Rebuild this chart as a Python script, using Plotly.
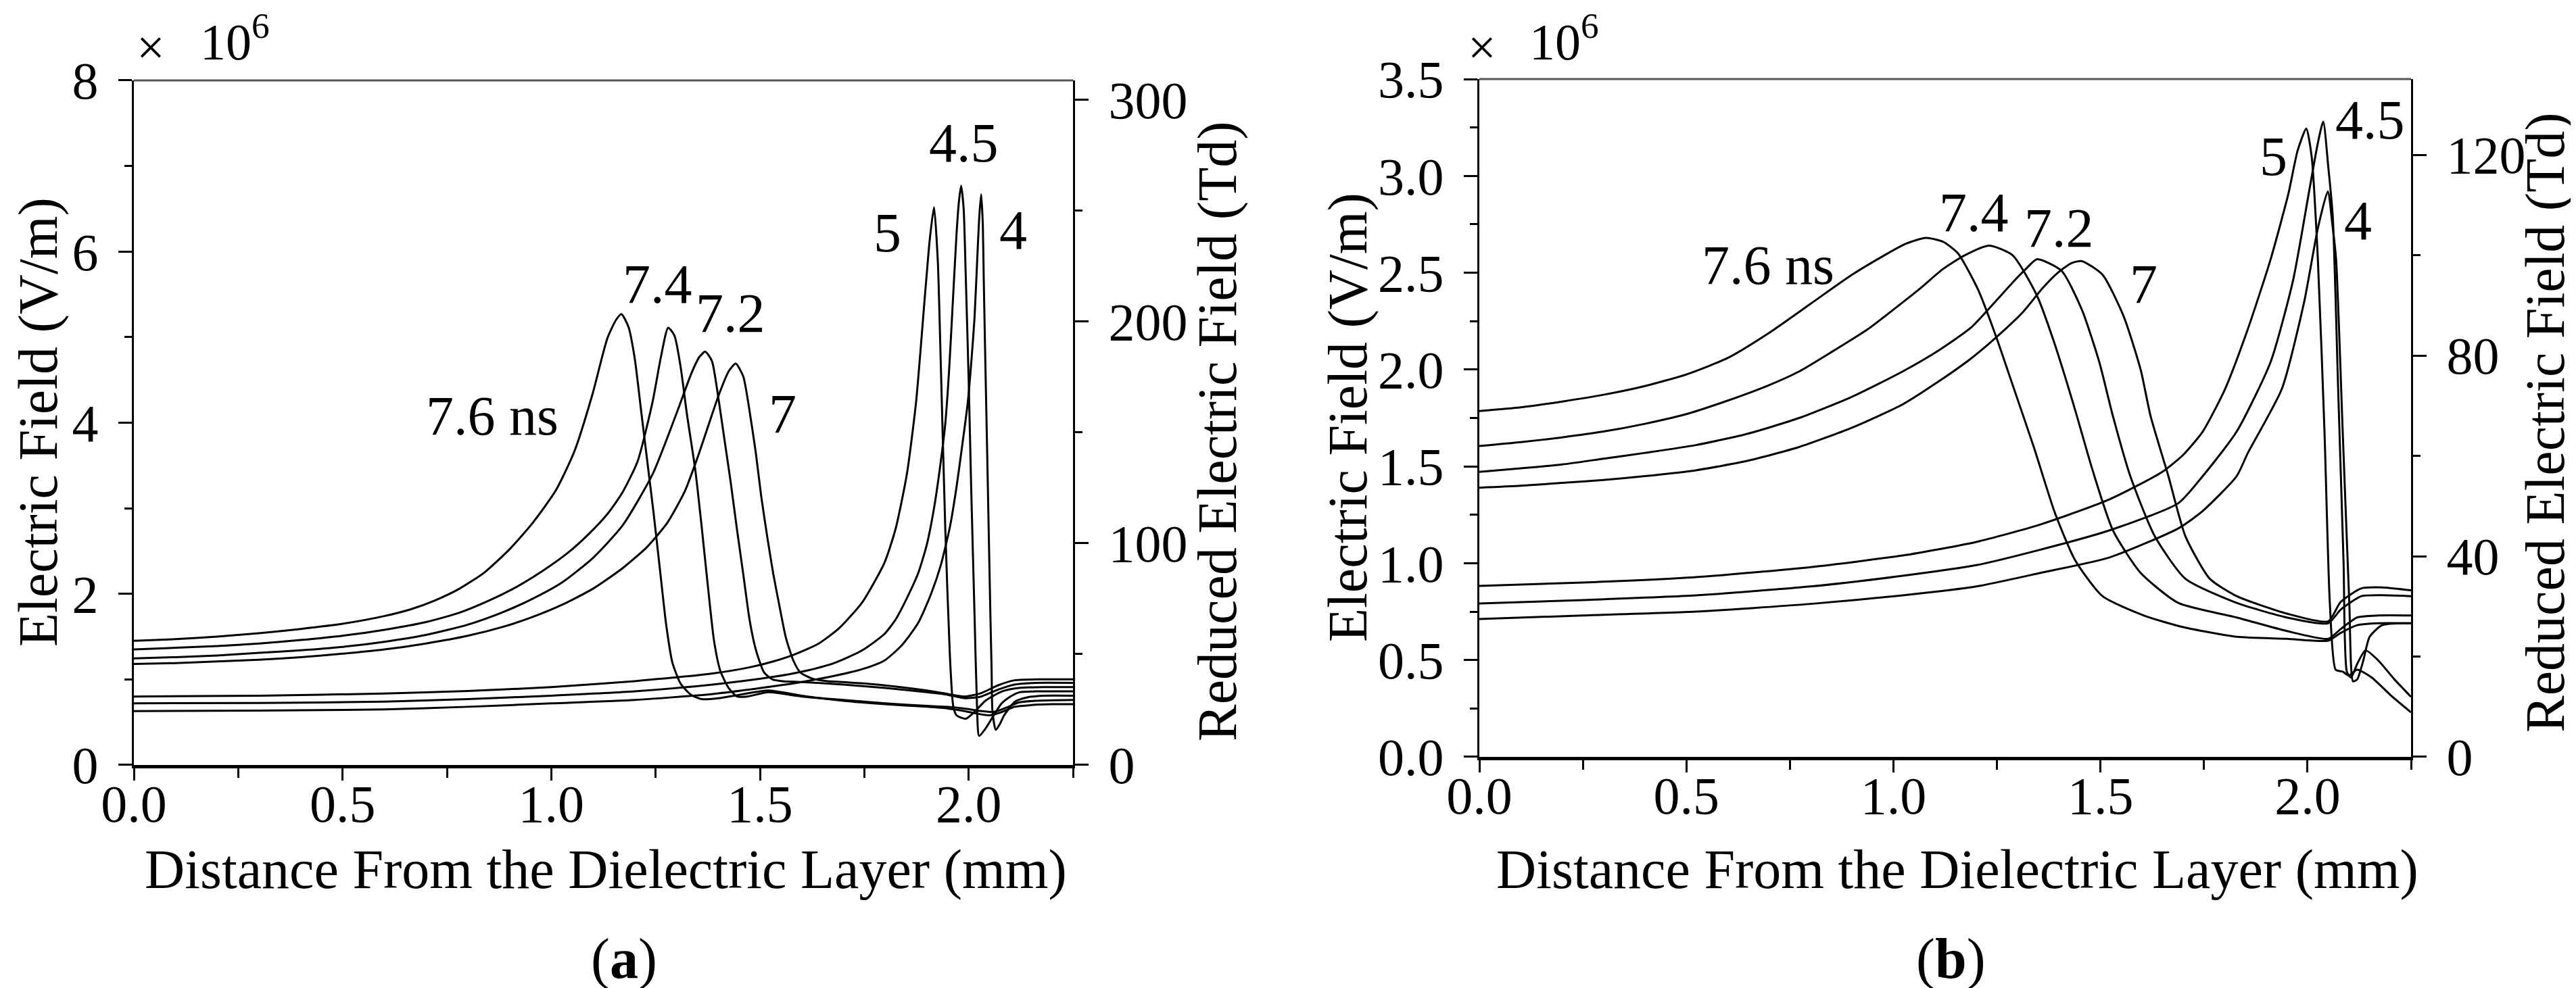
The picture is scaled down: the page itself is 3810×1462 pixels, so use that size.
import plotly.graph_objects as go

# ---- panel (a): electric field (x 10^6 V/m) vs distance (mm) ----
A76_X = [0, 0.1, 0.2, 0.3, 0.4, 0.5, 0.6, 0.664, 0.72, 0.78, 0.84, 0.9, 0.954, 1.011, 1.055, 1.098, 1.134, 1.155,
         1.168, 1.185, 1.2, 1.215, 1.23, 1.245, 1.26, 1.275, 1.29, 1.31, 1.335, 1.36, 1.4, 1.45, 1.52, 1.6, 1.7,
         1.8, 1.9, 1.95, 1.99, 2.02, 2.05, 2.08, 2.11, 2.15, 2.2, 2.25]
A76_E = [1.45, 1.47, 1.5, 1.54, 1.59, 1.65, 1.74, 1.82, 1.92, 2.06, 2.25, 2.52, 2.82, 3.21, 3.66, 4.32, 4.98, 5.2,
         5.27, 5.12, 4.75, 4.15, 3.55, 2.95, 2.3, 1.65, 1.2, 0.95, 0.82, 0.77, 0.78, 0.82, 0.87, 0.81, 0.75,
         0.71, 0.68, 0.66, 0.63, 0.6, 0.58, 0.62, 0.68, 0.7, 0.71, 0.71]

A74_X = [0, 0.1, 0.2, 0.3, 0.4, 0.5, 0.6, 0.7, 0.78, 0.85, 0.92, 0.98, 1.04, 1.09, 1.134, 1.17, 1.207, 1.243,
         1.262, 1.28, 1.295, 1.31, 1.325, 1.345, 1.36, 1.375, 1.39, 1.405, 1.425, 1.445, 1.47, 1.52, 1.6, 1.7,
         1.8, 1.9, 1.95, 1.99, 2.03, 2.06, 2.09, 2.12, 2.16, 2.25]
A74_E = [1.35, 1.37, 1.39, 1.42, 1.46, 1.51, 1.58, 1.67, 1.78, 1.92, 2.09, 2.27, 2.48, 2.7, 2.93, 3.18, 3.55, 4.25,
         4.75, 5.11, 5.02, 4.65, 4.1, 3.45, 2.8, 2.1, 1.45, 1.1, 0.9, 0.8, 0.8, 0.85, 0.8, 0.76,
         0.72, 0.69, 0.68, 0.66, 0.63, 0.62, 0.67, 0.73, 0.75, 0.76]

A72_X = [0, 0.1, 0.2, 0.3, 0.4, 0.5, 0.6, 0.7, 0.8, 0.881, 0.95, 1.025, 1.1, 1.171, 1.243, 1.301, 1.336, 1.355,
         1.369, 1.385, 1.4, 1.415, 1.43, 1.445, 1.46, 1.475, 1.49, 1.51, 1.53, 1.553, 1.6, 1.7, 1.8, 1.9, 1.95,
         1.99, 2.03, 2.07, 2.11, 2.16, 2.25]
A72_E = [1.245, 1.26, 1.28, 1.31, 1.34, 1.38, 1.44, 1.52, 1.64, 1.78, 1.93, 2.13, 2.42, 2.8, 3.4, 4.12, 4.58, 4.77,
         4.83, 4.72, 4.3, 3.8, 3.3, 2.75, 2.23, 1.7, 1.35, 1.08, 1.0, 0.98, 0.97, 0.94, 0.9, 0.85, 0.82,
         0.78, 0.8, 0.88, 0.94, 0.96, 0.96]

A70_X = [0, 0.1, 0.2, 0.3, 0.4, 0.5, 0.6, 0.7, 0.8, 0.881, 0.95, 1.025, 1.1, 1.171, 1.23, 1.278, 1.32, 1.351, 1.38,
         1.401, 1.425, 1.442, 1.46, 1.474, 1.49, 1.503, 1.518, 1.532, 1.547, 1.562, 1.58, 1.597, 1.625, 1.662, 1.7,
         1.8, 1.9, 1.95, 1.99, 2.03, 2.07, 2.11, 2.16, 2.25]
A70_E = [1.18, 1.19, 1.21, 1.23, 1.26, 1.3, 1.35, 1.42, 1.51, 1.61, 1.72, 1.87, 2.06, 2.3, 2.55, 2.83, 3.2, 3.6, 4.02,
         4.32, 4.6, 4.69, 4.54, 4.17, 3.65, 3.14, 2.65, 2.23, 1.85, 1.49, 1.22, 1.08, 1.01, 0.98, 0.97,
         0.93, 0.87, 0.83, 0.8, 0.84, 0.93, 0.99, 1.0, 1.0]

A50_X = [0, 0.3, 0.6, 0.8, 1.0, 1.2, 1.387, 1.474, 1.532, 1.582, 1.641, 1.69, 1.745, 1.798, 1.825, 1.852, 1.874,
         1.895, 1.907, 1.917, 1.926, 1.933, 1.944, 1.955, 1.963, 1.971, 1.993, 2.014, 2.04, 2.08, 2.12, 2.18, 2.25]
A50_E = [0.8, 0.81, 0.835, 0.865, 0.91, 0.98, 1.07, 1.14, 1.21, 1.29, 1.42, 1.6, 1.9, 2.36, 2.76, 3.4, 4.24,
         5.47, 6.15, 6.52, 5.9, 4.73, 2.76, 1.28, 0.69, 0.58, 0.54, 0.62, 0.75, 0.86, 0.9, 0.91, 0.91]

A45_X = [0, 0.3, 0.6, 0.8, 1.0, 1.2, 1.387, 1.532, 1.6, 1.677, 1.745, 1.798, 1.825, 1.852, 1.879, 1.9, 1.917,
         1.932, 1.944, 1.953, 1.96, 1.971, 1.977, 1.982, 1.988, 1.993, 2.0, 2.006, 2.014, 2.02, 2.025, 2.041,
         2.06, 2.079, 2.1, 2.122, 2.16, 2.25]
A45_E = [0.72, 0.725, 0.74, 0.77, 0.81, 0.86, 0.94, 1.03, 1.09, 1.19, 1.34, 1.53, 1.7, 1.95, 2.24, 2.58, 3.0,
         3.5, 3.99, 4.6, 5.22, 6.21, 6.6, 6.77, 6.5, 5.72, 4.5, 3.25, 1.77, 0.69, 0.34, 0.43,
         0.58, 0.72, 0.8, 0.85, 0.86, 0.86]

A40_X = [0, 0.3, 0.6, 0.8, 1.0, 1.2, 1.387, 1.532, 1.6, 1.677, 1.745, 1.798, 1.84, 1.879, 1.91, 1.933, 1.955,
         1.971, 1.985, 1.998, 2.007, 2.014, 2.022, 2.026, 2.03, 2.034, 2.036, 2.04, 2.044, 2.048, 2.052, 2.055,
         2.057, 2.065, 2.075, 2.085, 2.111, 2.14, 2.18, 2.25]
A40_E = [0.63, 0.635, 0.65, 0.68, 0.72, 0.76, 0.83, 0.92, 0.97, 1.04, 1.12, 1.22, 1.4, 1.66, 2.0, 2.33, 2.78,
         3.25, 3.75, 4.24, 4.75, 5.22, 6.07, 6.45, 6.67, 6.3, 5.72, 4.7, 3.74, 2.75, 1.77, 1.1,
         0.63, 0.41, 0.48, 0.58, 0.74, 0.79, 0.81, 0.81]

# ---- panel (b) ----
B76_X = [0, 0.1, 0.2, 0.3, 0.4, 0.5, 0.6, 0.7, 0.8, 0.9, 0.978, 1.03, 1.078, 1.12, 1.156, 1.205,
         1.248, 1.288, 1.339, 1.39, 1.439, 1.505, 1.605, 1.7, 1.829, 1.95, 2.05, 2.08, 2.12, 2.17, 2.25]
B76_E = [1.786, 1.805, 1.835, 1.87, 1.915, 1.975, 2.06, 2.19, 2.34, 2.49, 2.59, 2.65, 2.68, 2.66, 2.6, 2.41,
         2.17, 1.92, 1.6, 1.26, 1.015, 0.83, 0.73, 0.67, 0.62, 0.61, 0.6, 0.64, 0.68, 0.69, 0.69]

B74_X = [0, 0.1, 0.2, 0.3, 0.4, 0.5, 0.6, 0.7, 0.772, 0.85, 0.939, 1.0, 1.065, 1.12, 1.172, 1.231, 1.288, 1.347,
         1.389, 1.439, 1.481, 1.53, 1.597, 1.688, 1.829, 1.95, 2.05, 2.08, 2.12, 2.17, 2.25]
B74_E = [1.605, 1.625, 1.65, 1.68, 1.72, 1.77, 1.84, 1.92, 1.99, 2.09, 2.21, 2.31, 2.42, 2.52, 2.59, 2.64, 2.59, 2.38,
         2.135, 1.79, 1.48, 1.17, 0.95, 0.795, 0.72, 0.65, 0.61, 0.66, 0.72, 0.73, 0.73]

B72_X = [0, 0.1, 0.2, 0.3, 0.4, 0.523, 0.65, 0.772, 0.9, 1.022, 1.11, 1.189, 1.25, 1.288, 1.32, 1.347, 1.406,
         1.455, 1.497, 1.53, 1.572, 1.631, 1.705, 1.829, 1.95, 2.05, 2.08, 2.13, 2.18, 2.25]
B72_E = [1.472, 1.49, 1.51, 1.54, 1.57, 1.61, 1.67, 1.75, 1.86, 1.99, 2.1, 2.22, 2.36, 2.45, 2.52, 2.57, 2.51,
         2.31, 2.04, 1.76, 1.45, 1.14, 0.92, 0.795, 0.72, 0.69, 0.76, 0.83, 0.835, 0.83]

B70_X = [0, 0.1, 0.2, 0.3, 0.4, 0.523, 0.65, 0.772, 0.9, 1.022, 1.11, 1.189, 1.25, 1.314, 1.36, 1.397, 1.43, 1.455,
         1.505, 1.556, 1.597, 1.621, 1.664, 1.705, 1.764, 1.829, 1.95, 2.05, 2.08, 2.13, 2.18, 2.25]
B70_E = [1.39, 1.4, 1.415, 1.43, 1.45, 1.48, 1.53, 1.6, 1.7, 1.82, 1.94, 2.06, 2.17, 2.3, 2.42, 2.5, 2.55, 2.56,
         2.49, 2.275, 2.0, 1.76, 1.45, 1.14, 0.92, 0.83, 0.74, 0.7, 0.8, 0.87, 0.875, 0.86]

B50_X = [0, 0.25, 0.523, 0.8, 1.022, 1.2, 1.355, 1.522, 1.648, 1.7, 1.747, 1.801, 1.856, 1.911, 1.954, 1.976,
         1.997, 2.01, 2.025, 2.041, 2.054, 2.068, 2.085, 2.1, 2.12, 2.155, 2.2, 2.25]
B50_E = [0.883, 0.9, 0.928, 0.98, 1.04, 1.11, 1.2, 1.33, 1.47, 1.56, 1.68, 1.9, 2.21, 2.57, 2.91, 3.13,
         3.245, 3.1, 2.57, 1.68, 0.79, 0.45, 0.44, 0.42, 0.45, 0.41, 0.32, 0.23]

B45_X = [0, 0.25, 0.523, 0.8, 1.022, 1.2, 1.355, 1.522, 1.688, 1.747, 1.829, 1.911, 1.965, 2.003, 2.025, 2.038,
         2.05, 2.061, 2.074, 2.087, 2.095, 2.105, 2.12, 2.14, 2.17, 2.21, 2.25]
B45_E = [0.792, 0.81, 0.834, 0.88, 0.935, 0.99, 1.07, 1.17, 1.31, 1.45, 1.68, 2.04, 2.46, 2.91, 3.17, 3.28,
         3.05, 2.79, 1.9, 1.01, 0.44, 0.41, 0.48, 0.55, 0.5, 0.4, 0.31]

B40_X = [0, 0.25, 0.523, 0.8, 1.022, 1.2, 1.355, 1.522, 1.688, 1.747, 1.829, 1.856, 1.938, 1.992, 2.025, 2.049,
         2.06, 2.069, 2.085, 2.101, 2.11, 2.12, 2.135, 2.15, 2.18, 2.25]
B40_E = [0.712, 0.73, 0.75, 0.79, 0.834, 0.88, 0.95, 1.03, 1.18, 1.27, 1.45, 1.57, 1.9, 2.35, 2.73, 2.92,
         2.75, 2.57, 1.68, 0.79, 0.39, 0.4, 0.5, 0.62, 0.68, 0.69]

# curve labels (ns) and where they sit (data coords)
A_LABELS = ["7.6 ns", "7.4", "7.2", "7", "5", "4.5", "4"]
A_LAB_X = [0.858, 1.254, 1.429, 1.555, 1.805, 1.988, 2.106]
A_LAB_E = [4.08, 5.62, 5.28, 4.1, 6.22, 7.27, 6.25]
B_LABELS = ["7.6 ns", "7.4", "7.2", "7", "5", "4.5", "4"]
B_LAB_X = [0.697, 1.195, 1.4, 1.605, 1.917, 2.151, 2.122]
B_LAB_E = [2.54, 2.81, 2.73, 2.44, 3.1, 3.29, 2.77]

A_MAX = 8.0
B_MAX = 3.5
TD_PER_MVM = 38.6  # Td per 1e6 V/m

FONT = "Liberation Serif"

fig = go.Figure()

panel_a = [(A76_X, A76_E), (A74_X, A74_E), (A72_X, A72_E), (A70_X, A70_E),
           (A50_X, A50_E), (A45_X, A45_E), (A40_X, A40_E)]
panel_b = [(B76_X, B76_E), (B74_X, B74_E), (B72_X, B72_E), (B70_X, B70_E),
           (B50_X, B50_E), (B45_X, B45_E), (B40_X, B40_E)]

for xs, es in panel_a:
    fig.add_trace(go.Scatter(x=xs, y=es, mode="lines", line=dict(color="black", width=3, shape="spline", smoothing=0.6),
                             xaxis="x", yaxis="y", showlegend=False, hoverinfo="skip"))
for xs, es in panel_b:
    fig.add_trace(go.Scatter(x=xs, y=es, mode="lines", line=dict(color="black", width=3, shape="spline", smoothing=0.6),
                             xaxis="x2", yaxis="y3", showlegend=False, hoverinfo="skip"))

# empty traces so the right-hand (Td) axes get drawn
fig.add_trace(go.Scatter(x=[None], y=[None], xaxis="x", yaxis="y2", showlegend=False, hoverinfo="skip"))
fig.add_trace(go.Scatter(x=[None], y=[None], xaxis="x2", yaxis="y4", showlegend=False, hoverinfo="skip"))

tickfont = dict(family=FONT, size=78, color="black")


def xax(domain, anchor):
    return dict(domain=domain, anchor=anchor, range=[0, 2.25], tickmode="linear", tick0=0, dtick=0.5,
                tickformat=".1f", ticks="outside", ticklen=18, tickwidth=3, tickcolor="black",
                showline=True, linewidth=5, linecolor="black", showgrid=False, zeroline=False,
                tickfont=tickfont, ticklabelstandoff=-33, automargin=False,
                minor=dict(tickmode="linear", tick0=0, dtick=0.25, ticks="outside", ticklen=14,
                           tickwidth=3, tickcolor="black", showgrid=False))


def yax(domain, anchor, rng, dtick, mdtick, fmt, side="left", overlay=None):
    d = dict(domain=domain, anchor=anchor, range=rng, tickmode="linear", tick0=0, dtick=dtick,
             tickformat=fmt, ticks="outside", ticklen=20, tickwidth=3, tickcolor="black",
             showline=True, linewidth=3, linecolor="black", showgrid=False, zeroline=False,
             tickfont=tickfont, side=side, ticklabelstandoff=14, automargin=False,
             minor=dict(tickmode="linear", tick0=0, dtick=mdtick, ticks="outside", ticklen=11,
                        tickwidth=3, tickcolor="black", showgrid=False))
    if overlay:
        d["overlaying"] = overlay
    return d


DOM_AX = [0.04987, 0.41444]
DOM_AY = [0.2312, 0.9241]
DOM_BX = [0.57218, 0.93386]
DOM_BY = [0.2394, 0.9254]

fig.update_layout(
    width=3810, height=1462,
    margin=dict(l=0, r=0, t=0, b=0, autoexpand=False),
    paper_bgcolor="white", plot_bgcolor="white",
    font=dict(family=FONT, color="black"),
    xaxis=xax(DOM_AX, "y"),
    yaxis=yax(DOM_AY, "x", [0, A_MAX], 2, 1, "d"),
    yaxis2=yax(DOM_AY, "x", [0, A_MAX * TD_PER_MVM], 100, 50, "d", side="right", overlay="y"),
    xaxis2=xax(DOM_BX, "y3"),
    yaxis3=yax(DOM_BY, "x2", [0, B_MAX], 0.5, 0.25, ".1f"),
    yaxis4=yax(DOM_BY, "x2", [0, B_MAX * TD_PER_MVM], 40, 20, "d", side="right", overlay="y3"),
)

# top frame lines (thin, greyish)
for xr, yr in [("x domain", "y domain"), ("x2 domain", "y3 domain")]:
    fig.add_shape(type="line", xref=xr, yref=yr, x0=0, x1=1, y0=1, y1=1,
                  line=dict(color="#555555", width=3))

W, H = 3810.0, 1462.0
ann = []


def px(xp, yp, text, size, xanchor="center", textangle=0):
    ann.append(dict(x=xp / W, y=1 - yp / H, xref="paper", yref="paper", text=text, showarrow=False,
                    xanchor=xanchor, yanchor="middle", textangle=textangle,
                    font=dict(family=FONT, size=size, color="black")))


# axis titles
px(48, 617, "Electric Field (V/m)", 82, textangle=-90)
px(1792, 630, "Reduced Electric Field (Td)", 82, textangle=-90)
px(888, 1278, "Distance From the Dielectric Layer (mm)", 82)
px(1985, 610, "Electric Field (V/m)", 82, textangle=-90)
px(3756, 617, "Reduced Electric Field (Td)", 82, textangle=-90)
px(2887, 1278, "Distance From the Dielectric Layer (mm)", 82)

# panel letters
px(915, 1411, "(<b>a</b>)", 84)
px(2877, 1411, "(<b>b</b>)", 84)

# x 10^6 multipliers
px(192, 62, "×", 74, xanchor="left")
px(286, 48, "10<sup>6</sup>", 76, xanchor="left")
px(2161, 62, "×", 74, xanchor="left")
px(2252, 48, "10<sup>6</sup>", 76, xanchor="left")

for t, xv, ev in zip(A_LABELS, A_LAB_X, A_LAB_E):
    ann.append(dict(x=xv, y=ev, xref="x", yref="y", text=t, showarrow=False, xanchor="center",
                    yanchor="middle", font=dict(family=FONT, size=82, color="black")))
for t, xv, ev in zip(B_LABELS, B_LAB_X, B_LAB_E):
    ann.append(dict(x=xv, y=ev, xref="x2", yref="y3", text=t, showarrow=False, xanchor="center",
                    yanchor="middle", font=dict(family=FONT, size=82, color="black")))

fig.update_layout(annotations=ann)

fig.write_html("out.html")
